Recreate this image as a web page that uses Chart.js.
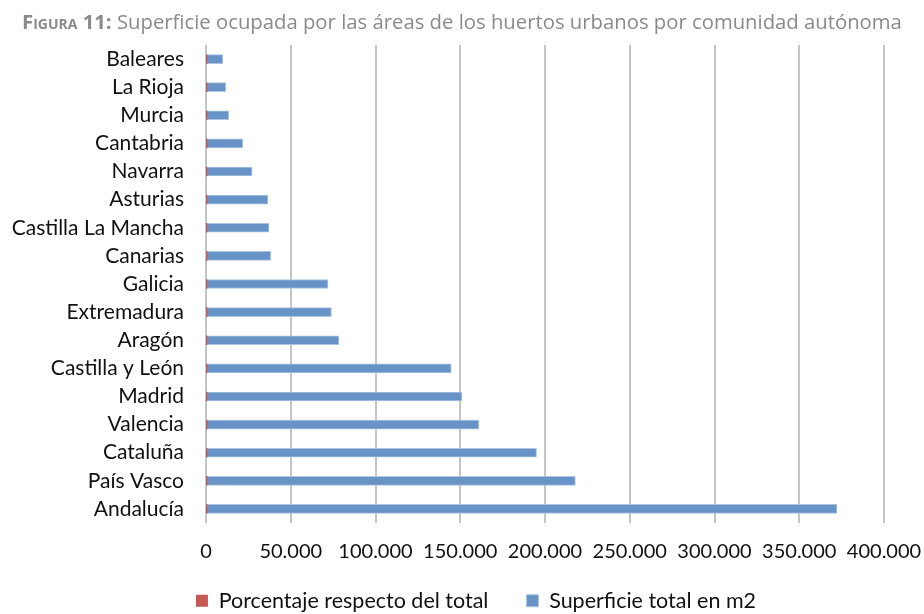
<!DOCTYPE html>
<html>
<head>
<meta charset="utf-8">
<script src="https://cdn.jsdelivr.net/npm/chart.js@4"></script>
<style>
  html, body { margin: 0; padding: 0; background: #fff; }
  #wrap { position: relative; width: 924px; height: 614px; }
  #title {
    position: absolute; left: 22px; top: 11px;
    font-family: "Open Sans", sans-serif; font-size: 20.3px; line-height: 1; color: #8a8a8a;
    white-space: nowrap;
  }
  #title b { font-variant: small-caps; font-weight: 700; }
  canvas { position: absolute; left: 0; top: 0; }
</style>
</head>
<body>
<div id="wrap">
  <canvas id="chart" width="924" height="614"></canvas>
  <div id="title"><b>Figura 11:</b> Superficie ocupada por las áreas de los huertos urbanos por comunidad autónoma</div>
</div>
<script>
// Data
const comunidades = ['Baleares', 'La Rioja', 'Murcia', 'Cantabria', 'Navarra', 'Asturias',
    'Castilla La Mancha', 'Canarias', 'Galicia', 'Extremadura', 'Aragón', 'Castilla y León',
    'Madrid', 'Valencia', 'Cataluña', 'País Vasco', 'Andalucía'];
const superficieM2 = [9900, 11600, 13400, 21700, 27200, 36500, 37200, 38200, 71900, 74000,
    78400, 144700, 151000, 161000, 195000, 217900, 372200];
const porcentaje = [0.6, 0.7, 0.8, 1.3, 1.6, 2.2, 2.2, 2.3, 4.3, 4.5, 4.7, 8.7, 9.1, 9.7,
    11.7, 13.1, 22.4];
const xTicks = [0, 50000, 100000, 150000, 200000, 250000, 300000, 350000, 400000];

function formatMiles(v) {
    return String(v).replace(/\B(?=(\d{3})+(?!\d))/g, '.');
}

// legend takes no room in the layout, then gets placed at the very bottom
const legendTweak = {
    id: 'legendTweak',
    beforeInit(chart) {
        const legend = chart.legend;
        if (!legend) return;
        const fit = legend.fit;
        legend.fit = function () {
            fit.call(this);
            this.height = 1;
        };
    },
    afterLayout(chart) {
        const legend = chart.legend;
        if (!legend) return;
        legend.top = 552;
        legend.bottom = 614;
        legend.height = 62;
        legend.left += 34;
        legend.right += 34;
    }
};

function initializeChart() {
    const ctx = document.getElementById('chart').getContext('2d');
    new Chart(ctx, {
        type: 'bar',
        data: {
            labels: comunidades,
            datasets: [
                {
                    label: 'Porcentaje respecto del total',
                    data: porcentaje,
                    backgroundColor: '#c55a55',
                    borderWidth: 0,
                    barThickness: 9,
                    grouped: false
                },
                {
                    label: 'Superficie total en m2',
                    data: superficieM2,
                    backgroundColor: '#6893c6',
                    borderColor: '#abc4e2',
                    borderWidth: 1,
                    borderSkipped: 'start',
                    barThickness: 9,
                    grouped: false
                }
            ]
        },
        options: {
            indexAxis: 'y',
            responsive: false,
            animation: false,
            layout: { padding: { top: 45, right: 40, left: 0, bottom: 0 } },
            scales: {
                x: {
                    min: 0,
                    max: 400000,
                    afterBuildTicks: (scale) => {
                        scale.ticks = xTicks.map(v => ({ value: v }));
                    },
                    afterFit: (scale) => {
                        scale.height = 90;
                        scale.paddingLeft = 0;
                        scale.paddingRight = 0;
                    },
                    grid: { color: '#c4c4c4', lineWidth: 2, drawTicks: false },
                    border: { display: false },
                    ticks: {
                        padding: 17,
                        color: '#111',
                        font: { family: 'Lato', size: 20 },
                        maxRotation: 0,
                        callback: (v) => formatMiles(v)
                    }
                },
                y: {
                    afterFit: (scale) => { scale.width = 206; },
                    grid: { display: false, drawTicks: false },
                    border: { display: false },
                    ticks: {
                        autoSkip: false,
                        padding: 22,
                        color: '#111',
                        font: { family: 'Lato', size: 21 }
                    }
                }
            },
            plugins: {
                legend: {
                    position: 'bottom',
                    labels: {
                        boxWidth: 12,
                        boxHeight: 12,
                        padding: 38,
                        color: '#111',
                        font: { family: 'Lato', size: 21.5 }
                    }
                },
                tooltip: { enabled: false }
            }
        },
        plugins: [legendTweak]
    });
}

document.addEventListener('DOMContentLoaded', () => {
    initializeChart();
});
</script>
</body>
</html>
